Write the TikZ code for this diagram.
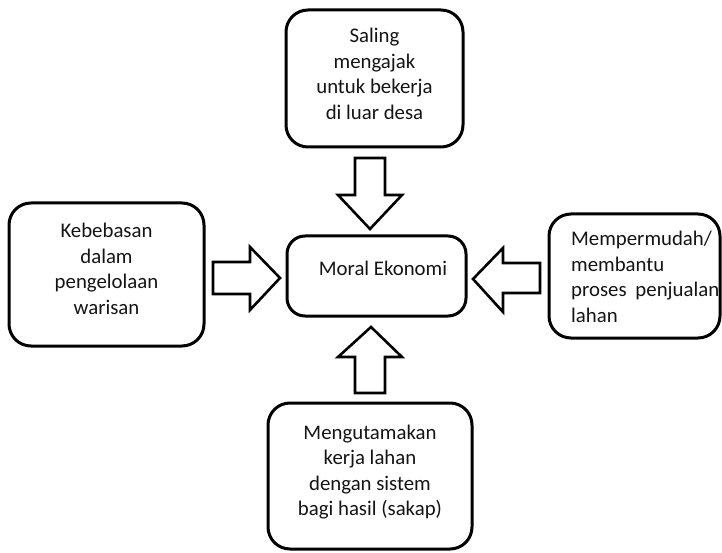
\documentclass[tikz,border=0pt]{standalone}
\usepackage{fontspec}
\setmainfont{Carlito}
\begin{document}
\begin{tikzpicture}[x=1pt,y=-1pt,
  box/.style={draw=black, line width=3pt, rounded corners=22pt, inner sep=0pt},
  txt/.style={font=\fontsize{20.8}{25.5}\selectfont, text=black!92, align=center, inner sep=0pt},
  blockarrow/.style={draw=black, line width=2.6pt, fill=white, line join=miter}]
\useasboundingbox (0,0) rectangle (722,553);

% boxes
\node[box, minimum width=177pt, minimum height=137pt] (top) at (374.5,78.5) {};
\node[box, minimum width=195pt, minimum height=143pt] (left) at (106.5,274.5) {};
\node[box, minimum width=179pt, minimum height=80pt, rounded corners=18pt] (moral) at (376.5,276) {};
\node[box, minimum width=171pt, minimum height=124pt] (right) at (634.5,276) {};
\node[box, minimum width=204pt, minimum height=146pt] (bottom) at (370,476) {};

% texts
\node[txt, yshift=4.5pt] at (top.center) {Saling\\mengajak\\untuk bekerja\\di luar desa};
\node[txt, yshift=5.5pt] at (left.center) {Kebebasan\\dalam\\pengelolaan\\warisan};
\node[txt] at (383,268) {Moral Ekonomi};
\node[txt, align=left, anchor=west] at (571,277) {Mempermudah/\\membantu\\proses\hspace{0.2em} penjualan\\lahan};
\node[txt, yshift=4pt] at (bottom.center) {Mengutamakan\\kerja lahan\\dengan sistem\\bagi hasil (sakap)};

% block arrows towards the centre box
\draw[blockarrow] (355,158) -- (385,158) -- (385,195) -- (402,195) -- (370,229) -- (338,195) -- (355,195) -- cycle;
\draw[blockarrow] (355,393) -- (385,393) -- (385,357) -- (402,357) -- (371,327) -- (338,357) -- (355,357) -- cycle;
\draw[blockarrow] (213,262) -- (250,262) -- (250,247) -- (280,278) -- (250,310) -- (250,294) -- (213,294) -- cycle;
\draw[blockarrow] (540,263) -- (503,263) -- (503,248) -- (473,279) -- (503,312) -- (503,293) -- (540,293) -- cycle;
\end{tikzpicture}
\end{document}
